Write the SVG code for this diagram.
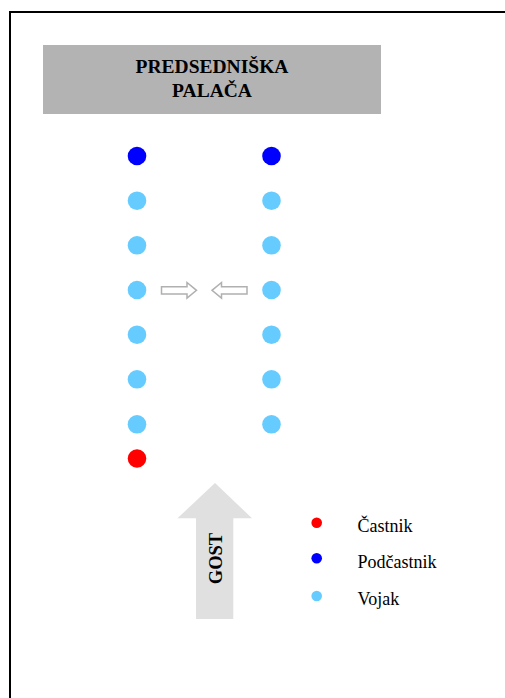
<svg xmlns="http://www.w3.org/2000/svg" width="505" height="698" viewBox="0 0 505 698">
<style>
.t{font-family:"Liberation Serif","Times New Roman",serif;fill:#000}
.b{font-weight:bold}
.blue{fill:#0000ff}
.lb{fill:#66ccff}
.red{fill:#ff0000}
.sm{fill:none;stroke:#b0b0b0;stroke-width:1.5}
</style>
<rect width="505" height="698" fill="#fff"/>
<path d="M10 698 V12 H505" fill="none" stroke="#000" stroke-width="2"/>
<g id="palace">
<rect x="43" y="45" width="338" height="69" fill="#b3b3b3"/>
<text class="t b" x="212" y="73" font-size="19.5" text-anchor="middle">PREDSEDNIŠKA</text>
<text class="t b" x="212" y="96.5" font-size="19.5" text-anchor="middle">PALAČA</text>
</g>
<g id="left-column">
<circle class="blue" cx="137" cy="156" r="9.3"/>
<circle class="lb" cx="137" cy="200.7" r="9.3"/>
<circle class="lb" cx="137" cy="245.3" r="9.3"/>
<circle class="lb" cx="137" cy="290" r="9.3"/>
<circle class="lb" cx="137" cy="334.7" r="9.3"/>
<circle class="lb" cx="137" cy="379.3" r="9.3"/>
<circle class="lb" cx="137" cy="424.3" r="9.3"/>
<circle class="red" cx="137" cy="458.5" r="9.3"/>
</g>
<g id="right-column">
<circle class="blue" cx="271.5" cy="156" r="9.3"/>
<circle class="lb" cx="271.5" cy="200.7" r="9.3"/>
<circle class="lb" cx="271.5" cy="245.3" r="9.3"/>
<circle class="lb" cx="271.5" cy="290" r="9.3"/>
<circle class="lb" cx="271.5" cy="334.7" r="9.3"/>
<circle class="lb" cx="271.5" cy="379.3" r="9.3"/>
<circle class="lb" cx="271.5" cy="424.3" r="9.3"/>
</g>
<g id="connectors">
<polygon class="sm" points="161.5,286.7 187,286.7 187,282.5 196.5,290.3 187,298.2 187,294 161.5,294"/>
<polygon class="sm" points="247,286.7 221.5,286.7 221.5,282.5 212,290.3 221.5,298.2 221.5,294 247,294"/>
</g>
<g id="guest">
<polygon points="215,483 252,518.3 233.3,518.3 233.3,619 196,619 196,518.3 177.5,518.3" fill="#e0e0e0"/>
<text class="t b" x="0" y="0" font-size="18.5" text-anchor="middle" transform="translate(221.5,558.5) rotate(-90)">GOST</text>
</g>
<g id="legend">
<circle class="red" cx="316.7" cy="522.7" r="5.3"/>
<text class="t" x="357.5" y="532.3" font-size="18">Častnik</text>
<circle class="blue" cx="316.7" cy="558.3" r="5.3"/>
<text class="t" x="357.5" y="568.3" font-size="18">Podčastnik</text>
<circle class="lb" cx="316.7" cy="596" r="5.3"/>
<text class="t" x="357.5" y="605" font-size="18">Vojak</text>
</g>
</svg>
